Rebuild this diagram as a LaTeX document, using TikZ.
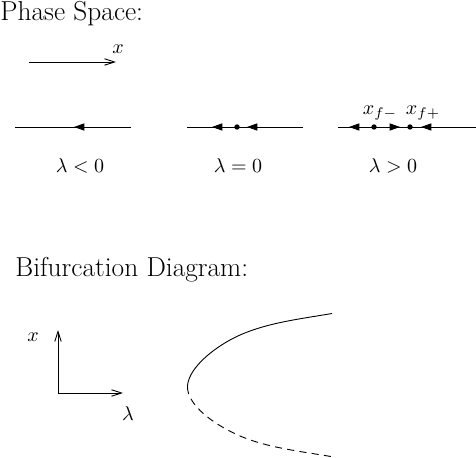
\documentclass[tikz,border=0pt]{standalone}
\usetikzlibrary{arrows.meta}
\font\ttlfont="[lmroman17-regular]:mapping=tex-text" at 13.7pt
\begin{document}
\begin{tikzpicture}[x=0.5pt,y=-0.5pt,
  thin line/.style={line width=0.45pt},
  flow/.style={thin line,-{Triangle[length=5.2pt,width=3.6pt]}},
  axis/.style={thin line,-{Straight Barb[length=5pt,width=3.2pt]}},
  fixpt/.style={circle,fill,inner sep=0pt,minimum size=2.7pt},
  lbl/.style={inner sep=0pt,anchor=base},
  ttl/.style={inner sep=0pt,anchor=base west,font=\ttlfont}]
\useasboundingbox (0,0) rectangle (476,458);

% titles
\node[ttl] (t1) at (0,20.5) {Phase Space:};
\node[ttl] (t2) at (15,277) {Bifurcation Diagram:};

% x direction arrow
\coordinate (xa) at (29,62);
\coordinate (xb) at (116,62);
\draw[axis] (xa) -- (xb);
\node[lbl] (xl) at (118,54) {$x$};

% lambda < 0
\coordinate (a1) at (15,127);
\coordinate (a2) at (131,127);
\draw[thin line] (a1) -- (a2);
\coordinate (a3) at (87,127);
\coordinate (a4) at (74,127);
\draw[flow] (a3) -- (a4);
\node[lbl] (l1) at (80,173) {$\lambda<0$};

% lambda = 0
\coordinate (b1) at (187,127);
\coordinate (b2) at (303,127);
\draw[thin line] (b1) -- (b2);
\coordinate (b3) at (224,127);
\coordinate (b4) at (212,127);
\draw[flow] (b3) -- (b4);
\node[fixpt] (b0) at (237,127) {};
\coordinate (b5) at (259,127);
\coordinate (b6) at (247,127);
\draw[flow] (b5) -- (b6);
\node[lbl] (l2) at (238,173) {$\lambda=0$};

% lambda > 0
\coordinate (c1) at (338,127);
\coordinate (c2) at (476,127);
\draw[thin line] (c1) -- (c2);
\coordinate (c3) at (361,127);
\coordinate (c4) at (349,127);
\draw[flow] (c3) -- (c4);
\node[fixpt] (cm) at (374,127) {};
\coordinate (c5) at (388,127);
\coordinate (c6) at (400,127);
\draw[flow] (c5) -- (c6);
\node[fixpt] (cp) at (410,127) {};
\coordinate (c7) at (433,127);
\coordinate (c8) at (421,127);
\draw[flow] (c7) -- (c8);
\node[lbl] (xm) at (380,115) {$x_{f-}$};
\node[lbl] (xp) at (423,115) {$x_{f+}$};
\node[lbl] (l3) at (393,173) {$\lambda>0$};

% bifurcation axes
\coordinate (o) at (58,393);
\coordinate (oy) at (58,330);
\coordinate (ox) at (123,393);
\draw[axis] (o) -- (oy);
\draw[axis] (o) -- (ox);
\node[lbl] (bx) at (33,342) {$x$};
\node[lbl] (bl) at (128,421) {$\lambda$};

% branches: stable (solid, upper) and unstable (dashed, lower)
\coordinate (v) at (187.5,387);
\coordinate (um) at (230,340);
\coordinate (ue) at (332,313.5);
\coordinate (lm) at (230,431.2);
\coordinate (le) at (332,456.7);
\draw[thin line] (v) .. controls (187.5,371) and (208,352.1) .. (um)
                     .. controls (260,323.5) and (297,319.5) .. (ue);
\draw[thin line,dash pattern=on 3.6pt off 2.6pt]
  (v) .. controls (187.5,403) and (208,420) .. (lm)
      .. controls (260,447.1) and (297,450.7) .. (le);
\end{tikzpicture}
\end{document}
